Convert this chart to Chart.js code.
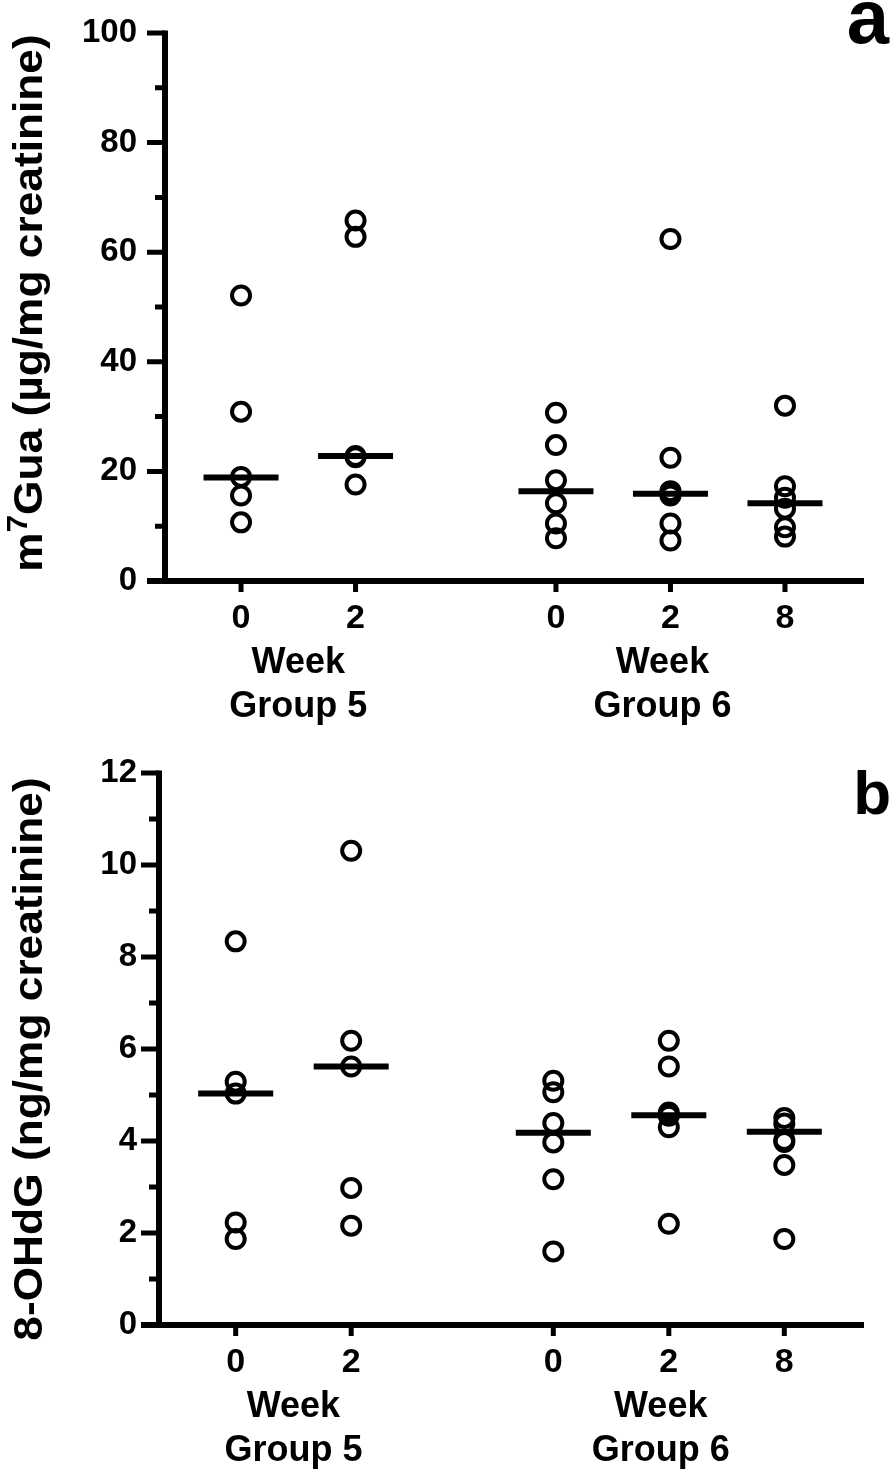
<!DOCTYPE html>
<html>
<head>
<meta charset="utf-8">
<script src="https://cdn.jsdelivr.net/npm/chart.js@4.4.0/dist/chart.umd.min.js"></script>
<style>
  body { margin: 0; background: #fff; }
  #lienzo { position: relative; width: 894px; height: 1477px; overflow: hidden; font-family: "Liberation Sans", Arial, sans-serif; }
  .panel { position: absolute; left: 0; width: 894px; }
  .letra { position: absolute; font-weight: bold; line-height: 1; color: #000; }
</style>
</head>
<body>
<div id="lienzo">
  <div class="panel" style="top:0;height:740px"><canvas id="graficoA"></canvas></div>
  <div class="panel" style="top:740px;height:737px"><canvas id="graficoB"></canvas></div>
  <div class="letra" style="right:5px;top:-21px;font-size:76px">a</div>
  <div class="letra" style="right:3px;top:762px;font-size:62px">b</div>
</div>
<script>
// etiquetas del eje x
var semanas = ['0', '2', '0', '2', '8'];
var grupos = ['Group 5', 'Group 6'];

// m7Gua (ug/mg creatinina), una lista por columna
var guaG5S0 = [52.1, 30.9, 19.0, 15.6, 10.7];
var guaG5S2 = [65.8, 62.8, 22.8, 22.6, 17.6];
var guaG6S0 = [30.7, 24.8, 18.4, 14.2, 10.5, 7.8];
var guaG6S2 = [62.4, 22.5, 16.4, 15.9, 15.6, 10.5, 7.4];
var guaG6S8 = [32.0, 17.3, 15.2, 13.2, 9.8, 8.1];
var medianasGua = [18.9, 22.8, 16.4, 15.9, 14.2];
var ticksGua = [0, 20, 40, 60, 80, 100];
// titulo en trozos: el 7 va en superindice
var tituloGua = [{ t: 'm' }, { t: '7', sup: true }, { t: 'Gua (\u00b5g/mg creatinine)' }];

// 8-OHdG (ng/mg creatinina)
var ohdgG5S0 = [8.34, 5.29, 5.03, 2.23, 1.87];
var ohdgG5S2 = [10.31, 6.18, 5.62, 2.98, 2.16];
var ohdgG6S0 = [5.31, 5.06, 4.39, 3.97, 3.17, 1.60];
var ohdgG6S2 = [6.18, 5.62, 4.62, 4.55, 4.30, 2.20];
var ohdgG6S8 = [4.50, 4.38, 4.02, 3.98, 3.48, 1.87];
var medianasOhdg = [5.03, 5.62, 4.18, 4.56, 4.20];
var ticksOhdg = [0, 2, 4, 6, 8, 10, 12];
var tituloOhdg = [{ t: '8-OHdG (ng/mg creatinine)' }];

// donde cae cada columna en el eje x (hay hueco entre grupos)
var slotX = [1, 2, 3.75, 4.75, 5.75];
var centroGrupo = [1.5, 4.68];
var fuente = '"Liberation Sans", Arial, sans-serif';

var marcasX = [];
semanas.forEach(function (s, i) { marcasX.push({ v: slotX[i], texto: s, grande: false }); });
grupos.forEach(function (g, i) { marcasX.push({ v: centroGrupo[i], texto: ['', 'Week', g], grande: true }); });
marcasX.sort(function (a, b) { return a.v - b.v; });

var ejes = {
  id: 'ejes',
  afterDraw: function (chart) {
    var ctx = chart.ctx, area = chart.chartArea;
    var x = chart.scales.x, y = chart.scales.y;
    var op = chart.options.plugins.ejes;
    var marcas = op.marcas;
    var largo = 18, corto = 10;
    ctx.save();
    ctx.strokeStyle = '#000';
    ctx.lineWidth = 5;
    ctx.beginPath();
    for (var i = 0; i < marcas.length; i++) {
      var py = y.getPixelForValue(marcas[i]);
      ctx.moveTo(area.left - largo, py);
      ctx.lineTo(area.left, py);
      if (i < marcas.length - 1) {
        var pm = y.getPixelForValue((marcas[i] + marcas[i + 1]) / 2);
        ctx.moveTo(area.left - corto, pm);
        ctx.lineTo(area.left, pm);
      }
    }
    slotX.forEach(function (sx) {
      var px = x.getPixelForValue(sx);
      ctx.moveTo(px, area.bottom);
      ctx.lineTo(px, area.bottom + 11);
    });
    ctx.stroke();
    ctx.lineWidth = 6;
    ctx.beginPath();
    ctx.moveTo(area.left, y.getPixelForValue(y.max) - 2.5);
    ctx.lineTo(area.left, area.bottom);
    ctx.moveTo(area.left - largo, area.bottom);
    ctx.lineTo(area.right, area.bottom);
    ctx.stroke();

    // titulo del eje y, girado
    var tam = 41, tamSup = 29;
    var normal = 'bold ' + tam + 'px ' + fuente;
    var chica = 'bold ' + tamSup + 'px ' + fuente;
    var total = 0;
    op.titulo.forEach(function (s) {
      ctx.font = s.sup ? chica : normal;
      s.ancho = ctx.measureText(s.t).width;
      total += s.ancho;
    });
    ctx.translate(42, (area.top + area.bottom) / 2 + op.corrido);
    ctx.rotate(-Math.PI / 2);
    ctx.scale(1.08, 1);
    ctx.fillStyle = '#000';
    ctx.textBaseline = 'alphabetic';
    ctx.textAlign = 'left';
    var cx = -total / 2;
    op.titulo.forEach(function (s) {
      ctx.font = s.sup ? chica : normal;
      ctx.fillText(s.t, cx, s.sup ? -15 : 0);
      cx += s.ancho;
    });
    ctx.restore();
  }
};

function crearGrafico(id, columnas, medianas, marcasY, titulo, corrido, ejeIzq, altoX) {
  var puntos = [];
  columnas.forEach(function (col, i) {
    col.forEach(function (v) { puntos.push({ x: slotX[i], y: v }); });
  });
  var lineas = medianas.map(function (m, i) { return { x: slotX[i], y: m }; });

  return new Chart(document.getElementById(id), {
    type: 'scatter',
    data: {
      datasets: [{
        label: 'mediana',
        data: lineas,
        pointStyle: 'line',
        pointRadius: 37.5,
        pointBorderWidth: 6,
        pointBorderColor: '#000',
        order: 0
      }, {
        label: 'datos',
        data: puntos,
        pointStyle: 'circle',
        pointRadius: 9,
        pointBorderWidth: 4,
        pointBorderColor: '#000',
        pointBackgroundColor: 'rgba(0,0,0,0)',
        order: 1
      }]
    },
    options: {
      responsive: true,
      maintainAspectRatio: false,
      animation: false,
      events: [],
      layout: { autoPadding: false, padding: { top: 33, right: 30, left: 0, bottom: 0 } },
      plugins: {
        legend: { display: false },
        tooltip: { enabled: false },
        ejes: { marcas: marcasY, titulo: titulo, corrido: corrido }
      },
      scales: {
        x: {
          type: 'linear',
          min: 0.336,
          max: 6.44,
          grid: { display: false, drawTicks: false },
          border: { display: false },
          afterBuildTicks: function (s) { s.ticks = marcasX.map(function (m) { return { value: m.v }; }); },
          afterFit: function (s) { s.height = altoX; },
          ticks: {
            autoSkip: false,
            maxRotation: 0,
            padding: 16,
            color: '#000',
            callback: function (v, i) { return marcasX[i].texto; },
            font: function (c) {
              return { family: fuente, weight: 'bold', size: marcasX[c.index] && marcasX[c.index].grande ? 36 : 34, lineHeight: '44px' };
            }
          }
        },
        y: {
          min: marcasY[0],
          max: marcasY[marcasY.length - 1],
          grid: { display: false, drawTicks: true, tickLength: 18 },
          border: { display: false },
          afterBuildTicks: function (s) { s.ticks = marcasY.map(function (v) { return { value: v }; }); },
          afterFit: function (s) { s.width = ejeIzq; },
          ticks: {
            padding: ejeIzq - 137 - 18,
            color: '#000',
            font: { family: fuente, weight: 'bold', size: 33 }
          },
          title: { display: false }
        }
      }
    },
    plugins: [ejes]
  });
}

crearGrafico('graficoA', [guaG5S0, guaG5S2, guaG6S0, guaG6S2, guaG6S8], medianasGua, ticksGua,
  tituloGua, -4, 165, 159);
crearGrafico('graficoB', [ohdgG5S0, ohdgG5S2, ohdgG6S0, ohdgG6S2, ohdgG6S8], medianasOhdg, ticksOhdg,
  tituloOhdg, 10, 159, 152);
</script>
</body>
</html>
